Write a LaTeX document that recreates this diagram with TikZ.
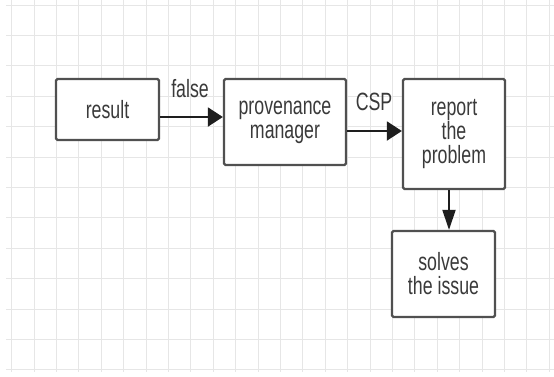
\documentclass[tikz,border=0pt]{standalone}
\usepackage{fontspec}
\usetikzlibrary{arrows.meta}
\newfontfamily\labfont[FakeStretch=0.71]{Liberation Sans}
\definecolor{gridline}{HTML}{E6E6E6}
\definecolor{boxline}{HTML}{505050}
\definecolor{inktext}{HTML}{3A3A3A}
\definecolor{arrowink}{HTML}{1E1E1E}
\begin{document}
\begin{tikzpicture}[x=1pt,y=-1pt,
  stepbox/.style={draw=boxline, line width=2.3pt, rounded corners=1.5pt, fill=white,
    align=center, inner sep=0pt, text=inktext,
    font=\labfont\fontsize{25}{24}\selectfont},
  flowlabel/.style={text=inktext, inner sep=0pt, font=\labfont\fontsize{25}{24}\selectfont},
  harrow/.style={draw=arrowink, line width=2pt, -{Triangle[length=15pt,width=19pt]}},
  varrow/.style={draw=arrowink, line width=2pt, -{Triangle[length=20pt,width=13pt]}}]
  % canvas and background grid
  \useasboundingbox (0,0) rectangle (554,376);
  \fill[white] (0,0) rectangle (554,376);
  \foreach \i in {0,...,24} {
    \draw[gridline, line width=0.9pt] ({11.7+22.4*\i},0) -- ({11.7+22.4*\i},372);
  }
  \foreach \j in {0,...,12} {
    \draw[gridline, line width=0.9pt] (6,{5+30.4*\j}) -- (554,{5+30.4*\j});
  }

  % process boxes
  \node[stepbox, minimum width=103pt, minimum height=61pt] (result) at (107.5,109.5) {result};
  \node[stepbox, minimum width=122pt, minimum height=86pt] (prov) at (285,122) {provenance\\manager};
  \node[stepbox, minimum width=102pt, minimum height=110pt] (report) at (454,134) {report\\the\\problem};
  \node[stepbox, minimum width=103pt, minimum height=86pt] (solve) at (443.5,274) {solves\\the issue};

  % connectors
  \draw[harrow] ([yshift=-7.5pt]result.east) -- ([yshift=-7.5pt]result.east -| prov.west);
  \draw[harrow] ([yshift=-9pt]prov.east) -- ([yshift=-9pt]prov.east -| report.west);
  \draw[varrow] ([xshift=-5pt]report.south) -- ([xshift=-5pt]report.south |- solve.north);

  % connector labels
  \node[flowlabel] (lfalse) at (190,89) {false};
  \node[flowlabel] (lcsp) at (374,102) {CSP};
\end{tikzpicture}
\end{document}
